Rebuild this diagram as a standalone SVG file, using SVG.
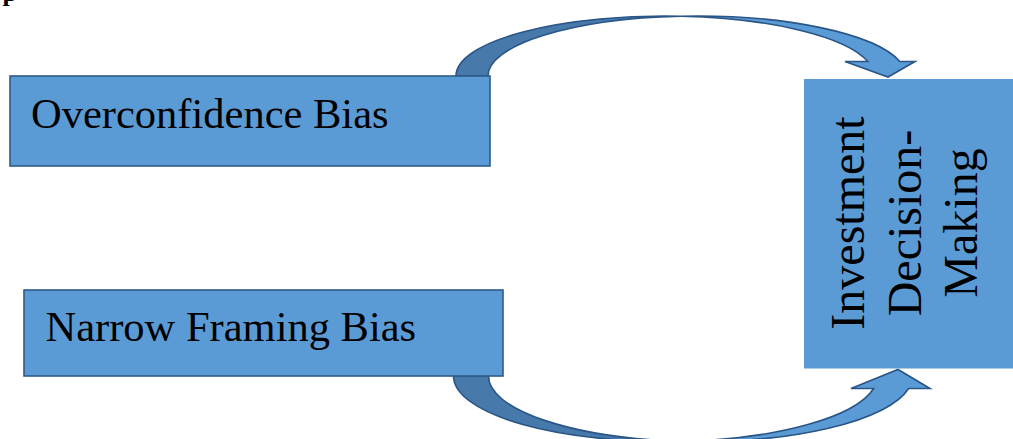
<svg xmlns="http://www.w3.org/2000/svg" width="1013" height="439" viewBox="0 0 1013 439">
  <style>
    .box { fill: #5B9BD5; stroke: #2E5A8A; stroke-width: 1.6; }
    .plain { fill: #5B9BD5; }
    .lbl { font-family: "Liberation Serif", "Times New Roman", serif; fill: #000; }
    .arrow-light { fill: #5B9BD5; stroke: #2A5587; stroke-width: 1.6; stroke-linejoin: miter; }
    .arrow-dark { fill: #4779AA; stroke: #2A5587; stroke-width: 1.6; }
  </style>
  <rect width="1013" height="439" fill="#FFFFFF"/>
  <text x="2.5" y="0.5" class="lbl" font-size="26" font-weight="bold">p</text>

  <g id="connectors">
    <g id="arrow-top">
      <path class="arrow-dark" d="M 456,76 A 209 60 0 0 1 681,16.2 A 209 60 0 0 0 488,76 Z"/>
      <path class="arrow-light" d="M 681,16.2 A 209 60 0 0 1 899.8,61.5 L 915,61.5 L 888,77 L 845,61.5 L 867.8,61.5 A 209 60 0 0 0 681,16.2 Z"/>
    </g>
    <g id="arrow-bottom">
      <path class="arrow-dark" d="M 453.5,376 A 212 65.5 0 0 0 683,441.3 A 212 65.5 0 0 1 488.5,376 Z"/>
      <path class="arrow-light" d="M 683,441.3 A 212 65.5 0 0 0 908.6,388.5 L 930,388.5 L 898,369.5 L 851,388.5 L 873.6,388.5 A 212 65.5 0 0 1 683,441.3 Z"/>
    </g>
  </g>

  <g id="node-overconfidence">
    <rect class="box" x="10" y="76" width="480" height="90"/>
    <text class="lbl" x="31" y="127.5" font-size="42.5">Overconfidence Bias</text>
  </g>

  <g id="node-narrow-framing">
    <rect class="box" x="24" y="290" width="479" height="86"/>
    <text class="lbl" x="45.5" y="340.5" font-size="42.5">Narrow Framing Bias</text>
  </g>

  <g id="node-investment">
    <rect class="plain" x="804" y="79" width="215" height="289.5"/>
    <text class="lbl" font-size="48" text-anchor="middle" transform="translate(864,223) rotate(-90)">Investment</text>
    <text class="lbl" font-size="48" text-anchor="middle" transform="translate(920.5,223) rotate(-90)">Decision-</text>
    <text class="lbl" font-size="48" text-anchor="middle" transform="translate(977,223) rotate(-90)">Making</text>
  </g>
</svg>
